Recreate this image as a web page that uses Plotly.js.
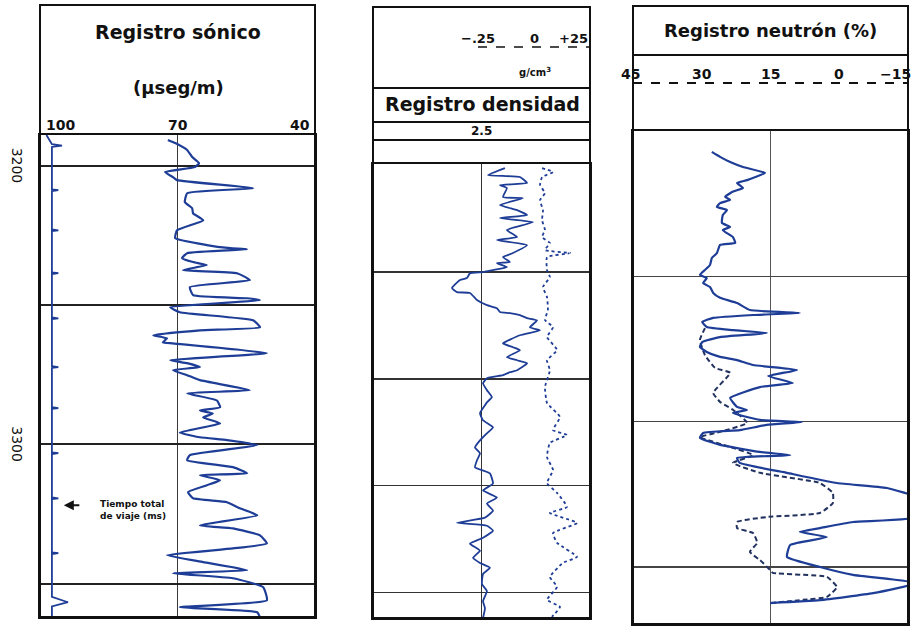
<!DOCTYPE html>
<html>
<head>
<meta charset="utf-8">
<script src="https://cdn.plot.ly/plotly-3.0.1.min.js"></script>
<style>
  html, body { margin: 0; padding: 0; background: #ffffff; }
  #chart { width: 920px; height: 630px; }
</style>
</head>
<body>
<div id="chart"></div>
<script>
// ---- Sonic log: interval transit time (µs/m) vs depth (m) ----
const sonicDepth = [
  3190.8,3191.9,3194.4,3196.9,3199.1,3200.5,3202.3,3204.1,3205.2,3208.1,
  3209.9,3213.1,3215.3,3217.1,3219.6,3223.2,3226.0,3228.5,3229.6,3230.0,
  3231.4,3233.2,3234.6,3235.7,3237.5,3238.6,3241.1,3243.6,3246.5,3247.6,
  3248.3,3250.8,3252.6,3255.5,3258.0,3259.1,3260.9,3262.0,3263.4,3263.8,
  3267.3,3269.8,3270.9,3272.3,3273.4,3275.2,3277.0,3280.6,3281.7,3284.3,
  3286.7,3287.9,3289.0,3290.4,3292.5,3295.8,3297.5,3298.5,3300.3,3303.9,
  3305.7,3308.2,3310.4,3311.1,3312.9,3314.7,3317.2,3319.4,3320.8,3323.0,
  3325.5,3329.1,3330.2,3332.7,3335.6,3337.4,3339.8,3342.3,3345.2,3346.3,
  3348.1,3351.3,3356.0,3358.5,3360.3,3362.1
];
const sonicDT = [
  72.1,70.5,67.9,66.8,65.3,66.2,72.7,71.0,70.1,53.5,
  67.9,68.4,66.8,66.6,64.4,70.1,70.5,63.6,58.5,54.8,
  67.9,69.0,66.6,63.6,68.8,57.0,54.2,67.3,66.6,54.8,
  52.0,71.6,69.5,53.5,52.0,65.1,75.3,72.3,73.2,71.0,
  50.5,71.6,67.9,65.1,71.0,67.9,65.1,54.2,67.9,61.4,
  60.7,65.1,62.3,64.4,60.7,69.5,65.1,59.2,52.6,67.3,
  67.9,57.9,54.8,65.1,60.7,63.6,67.7,66.6,59.2,56.4,
  52.6,65.1,57.9,52.0,50.5,57.9,72.3,64.4,54.8,71.0,
  57.9,51.3,50.5,69.5,52.6,52.0
];

// Integrated travel time track with its timing pips
const ttDepth = [
  3189.0,3191.0,3192.3,3192.8,3193.3,
  3208.5,3208.8,3209.1, 3222.9,3223.2,3223.5, 3238.3,3238.6,3238.9,
  3254.5,3254.8,3255.1, 3272.0,3272.3,3272.6, 3286.7,3287.0,3287.3,
  3302.9,3303.2,3303.5, 3319.1,3319.4,3319.7, 3338.8,3339.1,3339.4,
  3354.8,3356.7,3358.2,3362.0
];
const ttValue = [
  98.6,97.8,97.4,95.2,97.4,
  97.4,96.0,97.4, 97.4,96.0,97.4, 97.4,96.0,97.4,
  97.4,96.0,97.4, 97.4,96.0,97.4, 97.4,96.0,97.4,
  97.4,96.0,97.4, 97.4,96.0,97.4, 97.4,96.0,97.4,
  97.4,93.9,97.4,97.4
];

// ---- Density log: bulk density (g/cm3) and correction curve ----
const densDepth = [
  3151.3,3154.6,3155.5,3158.3,3159.3,3160.7,3164.9,3165.4,3168.6,3171.0,
  3173.3,3174.7,3176.6,3180.3,3183.6,3185.0,3187.4,3191.1,3193.0,3195.3,
  3195.8,3197.7,3199.1,3200.0,3200.5,3202.8,3203.7,3207.5,3209.4,3209.8,
  3213.1,3215.5,3216.9,3218.7,3219.2,3220.2,3221.6,3222.6,3225.9,3227.3,
  3229.6,3233.4,3235.2,3236.6,3239.9,3241.3,3242.7,3246.0,3246.9,3248.3,
  3249.7,3252.1,3255.3,3258.6,3261.0,3262.4,3266.1,3269.4,3272.7,3275.5,
  3278.8,3282.1,3284.9,3288.2,3291.5,3292.9,3294.3,3299.0,3302.3,3305.6,
  3308.4,3311.7,3315.0,3317.4,3318.8,3321.1,3324.4,3327.2,3330.5,3333.8,
  3336.2,3338.5,3341.4,3346.1,3349.4,3354.1,3357.4,3362.0
];
const densValue = [
  2.608,2.530,2.677,2.710,2.585,2.617,2.599,2.691,2.585,2.664,
  2.710,2.585,2.737,2.617,2.664,2.571,2.710,2.645,2.599,2.631,
  2.571,2.617,2.553,2.507,2.447,2.433,2.401,2.364,2.387,2.447,
  2.479,2.525,2.571,2.585,2.631,2.677,2.710,2.756,2.723,2.770,
  2.677,2.599,2.645,2.677,2.617,2.664,2.710,2.664,2.631,2.599,
  2.525,2.507,2.525,2.548,2.525,2.516,2.493,2.507,2.553,2.525,
  2.493,2.470,2.493,2.479,2.470,2.507,2.539,2.553,2.507,2.571,
  2.525,2.553,2.516,2.387,2.525,2.553,2.507,2.447,2.493,2.461,
  2.493,2.539,2.507,2.502,2.525,2.507,2.516,2.507
];
const corrDepth = [
  3151.3,3153.2,3155.5,3159.3,3163.0,3166.3,3171.0,3175.7,3180.3,3183.6,
  3186.4,3189.7,3191.1,3193.0,3199.1,3202.4,3207.0,3211.7,3217.8,3222.5,
  3225.8,3230.4,3236.5,3241.3,3246.0,3253.8,3261.3,3267.9,3274.0,3276.3,
  3280.0,3286.6,3292.7,3298.8,3303.4,3310.0,3312.8,3317.5,3322.2,3326.8,
  3333.4,3336.2,3342.8,3347.4,3353.5,3356.8,3361.5
];
const corrValue = [
  0.036,0.085,0.036,0.027,0.049,0.027,0.040,0.036,0.049,0.036,
  0.071,0.049,0.161,0.058,0.058,0.071,0.040,0.058,0.062,0.049,
  0.085,0.058,0.103,0.058,0.071,0.049,0.058,0.116,0.085,0.147,
  0.071,0.058,0.085,0.058,0.103,0.147,0.071,0.192,0.085,0.103,
  0.192,0.129,0.071,0.103,0.058,0.116,0.080
];

// ---- Neutron log: porosity (%) vs depth, plus the dashed comparison curve ----
const neutDepth = [
  3157.2,3158.9,3160.7,3162.4,3164.4,3166.9,3167.9,3169.6,3171.0,3172.7,
  3173.7,3174.8,3176.1,3177.2,3178.9,3181.6,3183.0,3184.1,3186.5,3188.5,
  3189.2,3192.0,3193.7,3196.1,3197.8,3199.5,3200.6,3202.3,3203.7,3205.7,
  3207.4,3209.2,3211.6,3212.6,3213.3,3214.3,3215.7,3217.4,3218.5,3219.5,
  3220.9,3222.6,3224.3,3226.0,3227.7,3228.8,3230.5,3232.2,3234.3,3236.7,
  3238.1,3241.8,3244.9,3246.0,3247.0,3249.4,3250.1,3251.1,3252.9,3253.9,
  3255.6,3258.0,3260.4,3261.5,3262.5,3264.2,3267.6,3271.1,3272.8,3276.2,
  3282.8,3284.5,3286.6,3287.9,3289.7,3292.4,3296.5,3300.0,3302.7,3305.5,
  3309.0,3311.4,3312.4
];
const neutValue = [
  27.8,26.0,23.8,21.0,16.2,20.1,22.3,21.0,23.4,24.9,
  23.8,26.0,26.7,24.5,25.4,25.6,23.8,25.4,23.2,22.7,
  26.0,26.7,27.8,28.2,29.3,30.4,28.9,29.7,28.2,27.5,
  26.0,22.3,19.5,8.6,18.8,27.5,29.9,28.9,23.2,15.8,
  26.0,29.9,30.4,28.9,26.0,22.3,18.8,9.2,15.5,10.1,
  17.3,23.8,22.3,20.1,23.2,17.3,8.1,15.8,21.7,29.7,
  30.4,26.0,17.3,10.7,22.3,21.7,11.4,0.5,-10.4,-17.0,
  -17.0,-3.0,4.2,8.6,2.7,10.7,11.4,4.2,-3.0,-17.0,
  -7.4,4.2,15.1
];
const neut2Depth = [
  3217.8,3221.9,3227.1,3231.5,3233.2,3240.1,3243.2,3245.9,3250.4,3253.5,
  3255.3,3258.7,3261.5,3264.2,3267.6,3271.1,3274.5,3278.0,3281.4,3282.8,
  3284.5,3286.6,3288.3,3291.7,3294.8,3297.6,3301.0,3302.0,3303.4,3306.9,
  3310.3,3311.3,3312.4
];
const neut2Value = [
  29.3,30.4,29.3,27.1,23.8,27.5,26.0,23.2,20.1,26.0,
  30.4,23.8,18.8,23.2,17.3,4.2,1.4,1.4,4.2,15.8,
  22.3,22.3,18.8,17.9,19.5,17.3,15.1,14.5,2.7,0.5,
  2.7,7.9,15.1
];

// Depth-track labels and scale captions
const depthLabels = [3200, 3300];
const sonicTicks = [100, 70, 40];
const corrTicks = [-0.25, 0, 0.25];
const corrTickText = ['\u2212.25', '0', '+25'];
const neutTicks = [45, 30, 15, 0, -15];
const neutTickText = ['45', '30', '15', '0', '\u221215'];

// ---- layout helpers (page pixels -> paper fractions) ----
const W = 920, H = 630;
const px = v => v / W;
const py = v => 1 - v / H;
const BLUE = '#1e3d96';
const INK = '#111111';
const FONT = 'DejaVu Sans, Liberation Sans, Arial, sans-serif';
const curve = (color, width, dash) => ({ color, width, dash: dash || 'solid', shape: 'spline', smoothing: 0.4 });

const traces = [
  { x: ttValue, y: ttDepth, xaxis: 'x', yaxis: 'y', mode: 'lines',
    line: { color: BLUE, width: 1.8 }, hoverinfo: 'skip' },
  { x: sonicDT, y: sonicDepth, xaxis: 'x', yaxis: 'y', mode: 'lines',
    line: curve(BLUE, 2.2), hoverinfo: 'skip' },
  { x: densValue, y: densDepth, xaxis: 'x2', yaxis: 'y2', mode: 'lines',
    line: curve(BLUE, 1.8), hoverinfo: 'skip' },
  { x: corrValue, y: corrDepth, xaxis: 'x3', yaxis: 'y2', mode: 'lines',
    line: curve(BLUE, 1.8, '3px,3px'), hoverinfo: 'skip' },
  { x: neut2Value, y: neut2Depth, xaxis: 'x4', yaxis: 'y3', mode: 'lines',
    line: curve('#22325f', 2, '5px,3px'), hoverinfo: 'skip' },
  { x: neutValue, y: neutDepth, xaxis: 'x4', yaxis: 'y3', mode: 'lines',
    line: curve(BLUE, 2.2), hoverinfo: 'skip' }
];

function trackAxis(domain, range, tickvals, anchor, gridcolor, gridwidth) {
  return {
    domain, range, tickvals, anchor,
    showticklabels: false, ticks: '',
    showgrid: true, gridcolor, gridwidth,
    zeroline: false, showline: true, mirror: true,
    linecolor: INK, linewidth: 2, fixedrange: true
  };
}

const hline = (x0, x1, y, dash, width) => ({
  type: 'line', xref: 'paper', yref: 'paper',
  x0: px(x0), x1: px(x1), y0: py(y), y1: py(y),
  line: { color: INK, width: width || 2, dash: dash || 'solid' }
});
const box = (x0, x1, y0, y1) => ({
  type: 'rect', xref: 'paper', yref: 'paper',
  x0: px(x0), x1: px(x1), y0: py(y1), y1: py(y0),
  line: { color: INK, width: 2 }, fillcolor: 'rgba(0,0,0,0)'
});

const txt = (text, x, y, size, extra) => Object.assign({
  text, x, y, xref: 'paper', yref: 'paper', showarrow: false,
  xanchor: 'center', yanchor: 'middle',
  font: { family: FONT, size, color: INK, weight: 'bold' }
}, extra || {});

// The density correction scale spans 478-590 px of the 373-590 px track;
// extend its range so the overlay can share the density track's domain.
const corrLo = 0.25 - 0.5 * (590 - 373) / (590 - 478);

const annotations = [
  // sonic header
  txt('Registro sónico', px(178), py(32), 19),
  txt('(µseg/m)', px(178), py(88), 18),
  txt(String(sonicTicks[0]), sonicTicks[0], py(125), 14, { xref: 'x', xanchor: 'left', xshift: 4 }),
  txt(String(sonicTicks[1]), sonicTicks[1], py(125), 14, { xref: 'x' }),
  txt(String(sonicTicks[2]), sonicTicks[2], py(125), 14, { xref: 'x', xanchor: 'right', xshift: -3 }),
  // density header
  txt(corrTickText[0], corrTicks[0], py(38), 13, { xref: 'x3' }),
  txt(corrTickText[1], corrTicks[1], py(38), 13, { xref: 'x3' }),
  txt(corrTickText[2], corrTicks[2], py(38), 13, { xref: 'x3', xanchor: 'right' }),
  txt('g/cm<sup>3</sup>', px(535), py(72), 10),
  txt('Registro densidad', px(482), py(104), 19),
  txt('2.5', 2.5, py(131), 12, { xref: 'x2' }),
  // neutron header
  txt('Registro neutrón (%)', px(770), py(30), 18),
  // travel-time note
  txt('Tiempo total<br>de viaje (ms)', 79.7, 3323.5, 9, { xref: 'x', yref: 'y', align: 'left' }),
  { x: 94.8, y: 3321.9, xref: 'x', yref: 'y', text: '', showarrow: true,
    ax: 17, ay: 0, axref: 'pixel', ayref: 'pixel',
    arrowhead: 2, arrowsize: 1, arrowwidth: 2, arrowcolor: INK }
];
neutTicks.forEach((v, i) => {
  const extra = { xref: 'x4' };
  if (i === 0) extra.xshift = -3;
  if (i === neutTicks.length - 1) { extra.xanchor = 'right'; extra.xshift = 5; }
  annotations.push(txt(neutTickText[i], v, py(74), 14, extra));
});
depthLabels.forEach(d => {
  annotations.push({
    text: String(d), x: px(17), y: d, xref: 'paper', yref: 'y',
    xanchor: 'center', yanchor: 'middle',
    showarrow: false, textangle: 90,
    font: { family: FONT, size: 14, color: INK }
  });
});

const layout = {
  width: W, height: H,
  margin: { l: 0, r: 0, t: 0, b: 0 },
  paper_bgcolor: '#ffffff', plot_bgcolor: '#ffffff',
  showlegend: false,
  xaxis:  trackAxis([px(40), px(315)], [100, 40], [70], 'y', '#3a3a3a', 1.2),
  yaxis:  trackAxis([py(617), py(135)], [3362, 3189], [3200, 3250, 3300, 3350], 'x', '#222222', 2),
  xaxis2: trackAxis([px(373), px(590)], [2.0, 3.0], [2.5], 'y2', '#333333', 1.5),
  yaxis2: trackAxis([py(618), py(164)], [3362, 3149.4], [3200, 3250, 3300, 3350], 'x2', '#333333', 1.5),
  xaxis3: { overlaying: 'x2', range: [corrLo, 0.25], anchor: 'y2',
            visible: false, showgrid: false, zeroline: false, fixedrange: true },
  xaxis4: trackAxis([px(633), px(908)], [45, -15], [15], 'y3', '#555555', 1.2),
  yaxis3: trackAxis([py(624), py(131)], [3319.6, 3150], [3200, 3250, 3300], 'x4', '#444444', 1.6),
  shapes: [
    box(40, 315, 5, 617),
    box(373, 590, 7, 618),
    hline(373, 590, 88), hline(373, 590, 122), hline(373, 590, 140),
    hline(478, 590, 47, 'dash', 1.6),
    box(633, 908, 6, 624),
    hline(633, 908, 55),
    hline(633, 908, 83, 'dash', 1.8)
  ],
  annotations
};

Plotly.newPlot('chart', traces, layout, { staticPlot: true, displayModeBar: false });
</script>
</body>
</html>
